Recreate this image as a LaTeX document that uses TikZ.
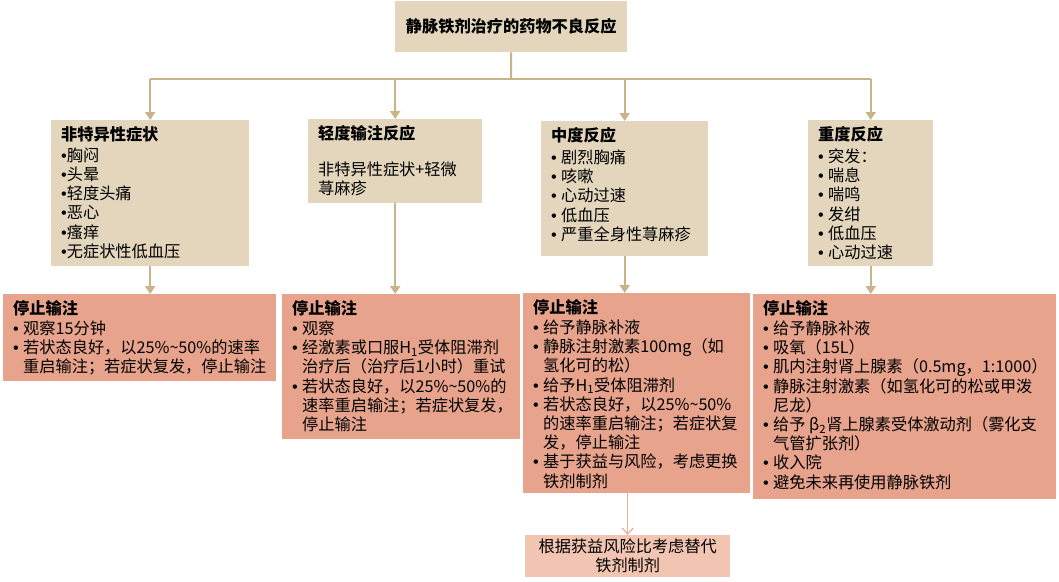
\documentclass[tikz,border=0pt]{standalone}
\usepackage{fontspec}
\setmainfont{Noto Sans CJK SC}
\newfontfamily\latinfont{Liberation Sans}
\usetikzlibrary{arrows.meta}
\definecolor{tanfill}{RGB}{227,214,188}
\definecolor{tanline}{RGB}{201,180,138}
\definecolor{salmonfill}{RGB}{231,163,140}
\definecolor{pinkfill}{RGB}{242,196,178}
\definecolor{pinkline}{RGB}{236,178,160}
\newcommand\bdot{{\latinfont •}}
\newcommand\bu{\makebox[10pt][l]{\bdot}}
\newcommand\ct{\hspace*{10pt}}
\newcommand\tb[3]{\parbox[c][#2][t]{#1}{\raggedright #3}}
\begin{document}
\begin{tikzpicture}[x=1pt,y=-1pt,
  every node/.style={font=\fontsize{16.2}{19.2}\selectfont, text=black},
  tanbox/.style={fill=tanfill, draw=none, inner xsep=10pt, inner ysep=6pt, anchor=north west},
  redbox/.style={fill=salmonfill, draw=none, inner xsep=10pt, inner ysep=6pt, anchor=north west},
  conn/.style={draw=tanline, line width=2pt},
  tanarrow/.style={conn, -{Triangle[width=10pt,length=8pt]}},
  pinkarrow/.style={draw=pinkline, line width=1.3pt, -{Straight Barb[width=11pt,length=6pt]}}]
\useasboundingbox (0,0) rectangle (1059,581);
\fill[white] (0,0) rectangle (1059,581);

\node[fill=tanfill, anchor=north west, minimum width=232pt, minimum height=51pt, inner sep=0pt,
  font=\fontsize{16.2}{19}\selectfont\bfseries] (top) at (395,1) {静脉铁剂治疗的药物不良反应};

\node[tanbox] (b1) at (51,120) {\tb{178pt}{134pt}{\textbf{非特异性症状}\\[2pt]\bdot 胸闷\\\bdot 头晕\\\bdot 轻度头痛\\\bdot 恶心\\\bdot 瘙痒\\\bdot 无症状性低血压}};
\node[tanbox] (b2) at (308,119) {\tb{154pt}{72pt}{\textbf{轻度输注反应}\\[17pt]非特异性症状+轻微\\荨麻疹}};
\node[tanbox] (b3) at (541,121) {\tb{147pt}{123pt}{\textbf{中度反应}\\[3pt]\bu 剧烈胸痛\\\bu 咳嗽\\\bu 心动过速\\\bu 低血压\\\bu 严重全身性荨麻疹}};
\node[tanbox] (b4) at (808,120) {\tb{105pt}{134pt}{\textbf{重度反应}\\[3pt]\bu 突发：\\\bu 喘息\\\bu 喘鸣\\\bu 发绀\\\bu 低血压\\\bu 心动过速}};

\node[redbox] (b5) at (3,294) {\tb{253pt}{75pt}{\textbf{停止输注}\\[1pt]\bu 观察15分钟\\\bu 若状态良好，以25\%\textasciitilde50\%的速率\\\ct 重启输注；若症状复发，停止输注}};
\node[redbox] (b6) at (282,294) {\tb{218pt}{133pt}{\textbf{停止输注}\\[1pt]\bu 观察\\\bu 经激素或口服H\textsubscript{1}受体阻滞剂\\\ct 治疗后（治疗后1小时）重试\\\bu 若状态良好，以25\%\textasciitilde50\%的\\\ct 速率重启输注；若症状复发，\\\ct 停止输注}};
\node[redbox] (b7) at (523,293) {\tb{207pt}{188pt}{\textbf{停止输注}\\[1pt]\bu 给予静脉补液\\\bu 静脉注射激素100mg（如\\\ct 氢化可的松）\\\bu 给予H\textsubscript{1}受体阻滞剂\\\bu 若状态良好，以25\%\textasciitilde50\%\\\ct 的速率重启输注；若症状复\\\ct 发，停止输注\\\bu 基于获益与风险，考虑更换\\\ct 铁剂制剂}};
\node[redbox] (b8) at (753,294) {\tb{283pt}{193pt}{\textbf{停止输注}\\[1pt]\bu 给予静脉补液\\\bu 吸氧（15L）\\\bu 肌内注射肾上腺素（0.5mg，1:1000）\\\bu 静脉注射激素（如氢化可的松或甲泼\\\ct 尼龙）\\\bu 给予 β\textsubscript{2}肾上腺素受体激动剂（雾化支\\\ct 气管扩张剂）\\\bu 收入院\\\bu 避免未来再使用静脉铁剂}};

\node[fill=pinkfill, anchor=north west, minimum width=205pt, minimum height=42pt, inner sep=0pt, align=center,
  font=\fontsize{16.2}{19}\selectfont] (alt) at (525,535) {根据获益风险比考虑替代\\铁剂制剂};

\coordinate (bus) at (511,79);
\draw[conn] (top.south) -- (bus);
\draw[conn] (b1.north |- bus) -- (b4.north |- bus);
\draw[tanarrow] (b1.north |- bus) -- (b1.north);
\draw[tanarrow] (b2.north |- bus) -- (b2.north);
\draw[tanarrow] (b3.north |- bus) -- (b3.north);
\draw[tanarrow] (b4.north |- bus) -- (b4.north);

\draw[tanarrow] (b1.south) -- (b1.south |- b5.north);
\draw[tanarrow] (b2.south) -- (b2.south |- b6.north);
\draw[tanarrow] (b3.south) -- (b3.south |- b7.north);
\draw[tanarrow] (b4.south) -- (b4.south |- b8.north);
\draw[pinkarrow] (alt.north |- b7.south) -- (alt.north);
\end{tikzpicture}
\end{document}
